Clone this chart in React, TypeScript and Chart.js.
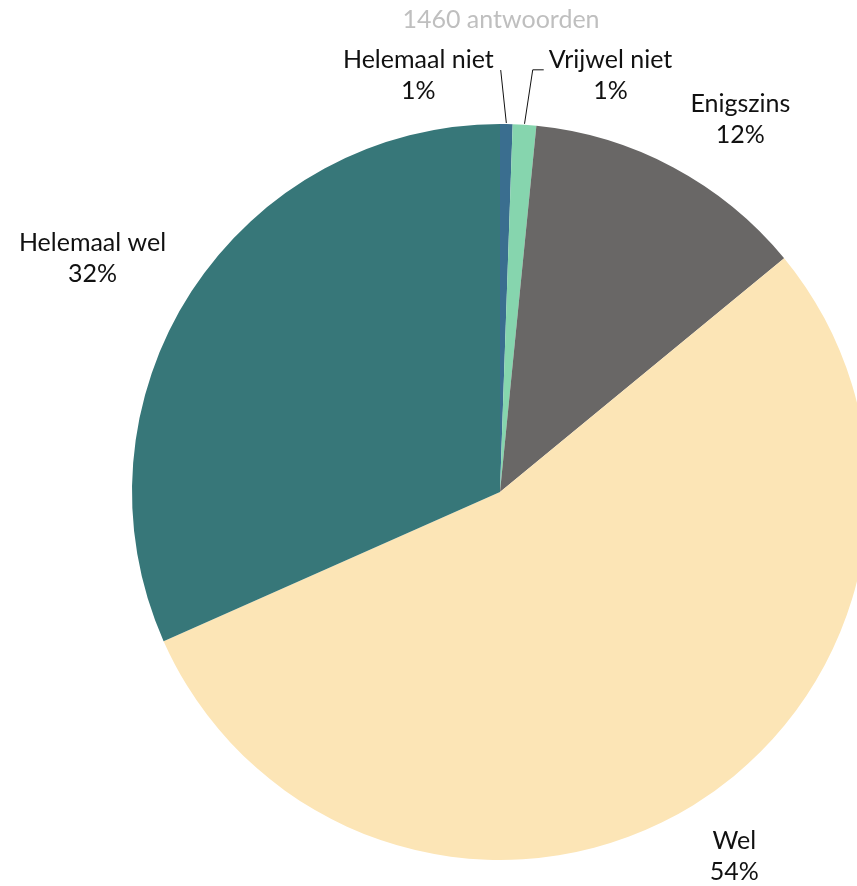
import React, { useEffect, useRef } from "react";
import { Chart, registerables } from "chart.js";

Chart.register(...registerables);

const TITLE = "1460 antwoorden";
const categories = ["Helemaal niet", "Vrijwel niet", "Enigszins", "Wel", "Helemaal wel"];
const counts = [8, 15, 182, 793, 462];
const colors = ["#3A6E8F", "#86D5AE", "#696766", "#FCE5B6", "#377779"];

// Offsets (px) of each label block centre from the slice's outer mid-point
const labelOffsets: [number, number][] = [
  [-88, -48],
  [86, -49],
  [67, -47],
  [41, 52],
  [-99, -32],
];
// Which side of the label a leader line attaches to (null = no leader)
const leaderSide: (string | null)[] = ["right", "left", null, null, null];

const FONT_FAMILY = "Lato, 'Open Sans', sans-serif";
const FONT_SIZE = 25;
const LABEL_COLOR = "#111111";
const TITLE_COLOR = "#BFBFBF";

const total = counts.reduce((a, b) => a + b, 0);
const percentLabels = counts.map((c) => Math.round((c / total) * 100) + "%");

const labelPlugin = {
  id: "pieLabels",
  afterDatasetsDraw(chart: any) {
    const ctx: CanvasRenderingContext2D = chart.ctx;
    const meta = chart.getDatasetMeta(0);
    ctx.save();
    ctx.font = `${FONT_SIZE}px ${FONT_FAMILY}`;
    ctx.textAlign = "center";
    ctx.textBaseline = "alphabetic";

    // title
    const first = meta.data[0];
    if (first) {
      ctx.fillStyle = TITLE_COLOR;
      ctx.fillText(TITLE, first.x + 1, 28);
    }

    meta.data.forEach((arc: any, i: number) => {
      const { x, y, startAngle, endAngle, outerRadius } = arc.getProps(
        ["x", "y", "startAngle", "endAngle", "outerRadius"],
        true
      );
      const mid = (startAngle + endAngle) / 2;
      const ex = x + Math.cos(mid) * outerRadius;
      const ey = y + Math.sin(mid) * outerRadius;
      const [ox, oy] = labelOffsets[i];
      const cx = ex + ox;
      const cy = ey + oy;
      const b1 = cy - 8;
      const b2 = cy + 23;
      const w = Math.max(ctx.measureText(categories[i]).width, ctx.measureText(percentLabels[i]).width);

      ctx.fillStyle = LABEL_COLOR;
      ctx.fillText(categories[i], cx, b1);
      ctx.fillText(percentLabels[i], cx, b2);

      const side = leaderSide[i];
      if (side) {
        ctx.strokeStyle = "#111111";
        ctx.lineWidth = 1;
        ctx.beginPath();
        ctx.moveTo(ex, ey - 1);
        const ly = b1 + 2;
        if (side === "right") {
          ctx.lineTo(cx + w / 2 + 7, ly);
        } else {
          const left = cx - w / 2;
          ctx.lineTo(left - 16, ly);
          ctx.lineTo(left - 5, ly);
        }
        ctx.stroke();
      }
    });
    ctx.restore();
  },
};

export default function App() {
  const ref = useRef<HTMLCanvasElement>(null);
  useEffect(() => {
    document.body.style.margin = "0";
    if (!ref.current) return;
    const chart = new Chart(ref.current, {
      type: "pie",
      data: {
        labels: categories,
        datasets: [
          {
            data: counts,
            backgroundColor: colors,
            borderWidth: 0,
            hoverOffset: 0,
            clip: false,
          } as any,
        ],
      },
      options: {
        animation: false,
        responsive: true,
        maintainAspectRatio: false,
        radius: 368,
        layout: { padding: { left: 143, right: 0, top: 110, bottom: 12 } },
        plugins: {
          legend: { display: false },
          tooltip: { enabled: false },
          title: { display: false },
        },
        events: [],
      } as any,
      plugins: [labelPlugin],
    });
    return () => chart.destroy();
  }, []);
  return (
    <div style={{ width: 857, height: 886, position: "relative", overflow: "hidden", background: "#fff" }}>
      <canvas ref={ref} />
    </div>
  );
}
